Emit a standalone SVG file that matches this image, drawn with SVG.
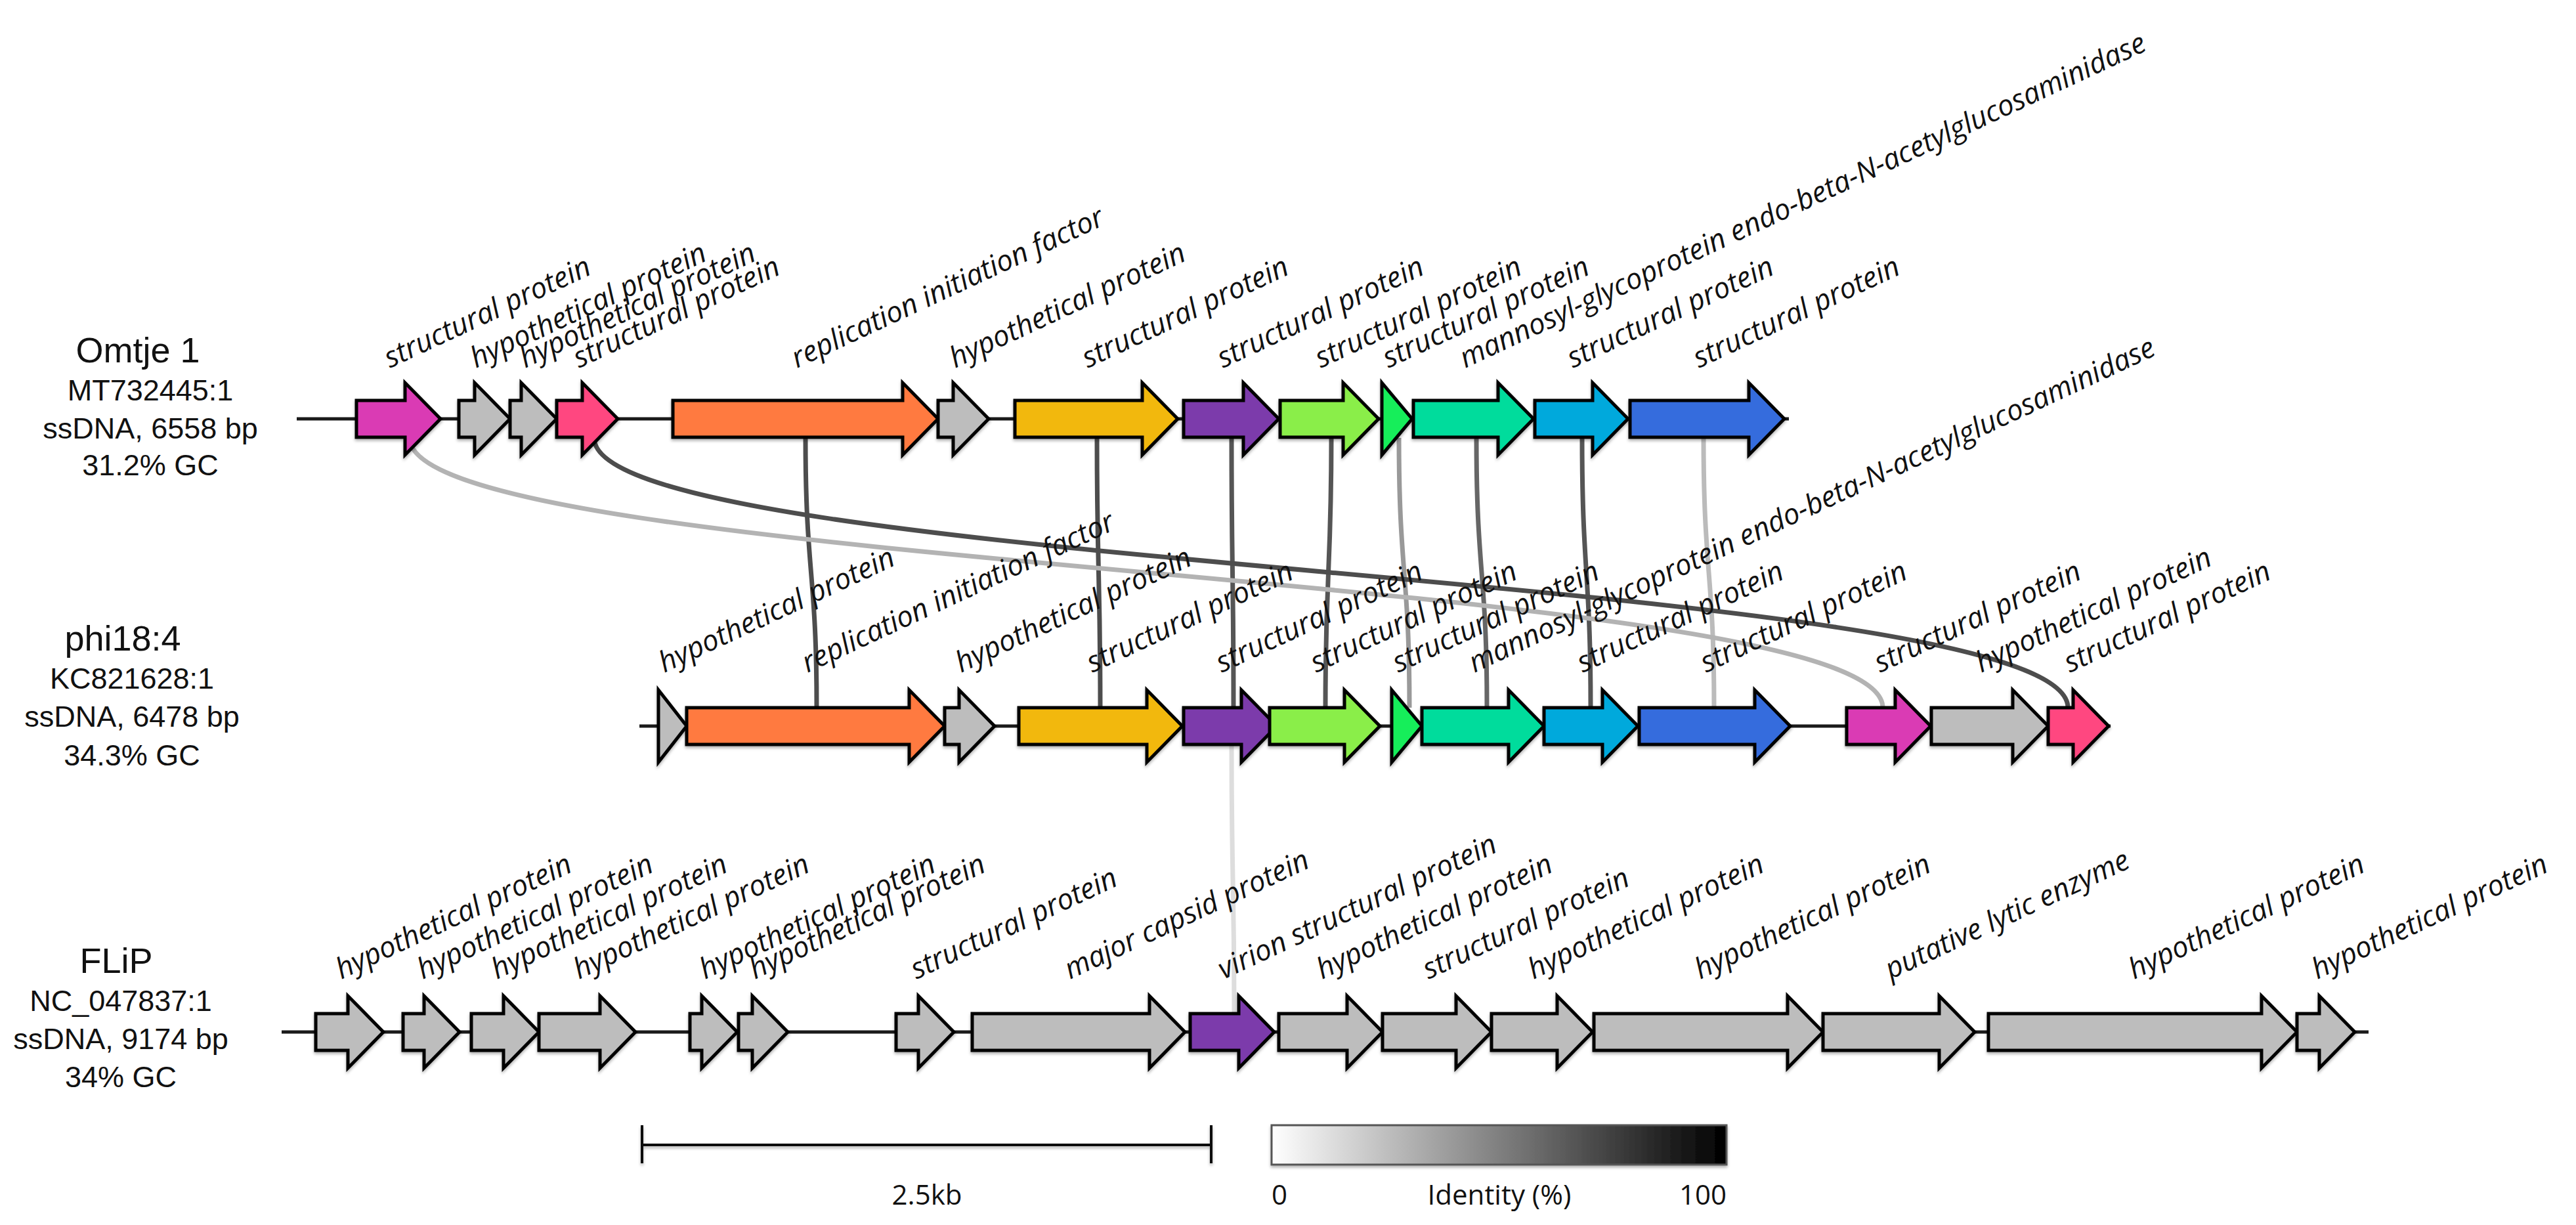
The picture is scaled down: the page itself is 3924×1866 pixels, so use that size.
<svg xmlns="http://www.w3.org/2000/svg" width="3924" height="1866" viewBox="0 0 3924 1866">
<defs>
<style>
.track{stroke:#1a1a1a;stroke-width:5;fill:none}
.gene{stroke:#000;stroke-width:5;stroke-linejoin:miter}
.lbl{font-family:"Open Sans","Noto Sans",sans-serif;font-style:italic;font-size:44px;fill:#111}
.name{font-family:"Liberation Sans",Arial,sans-serif;font-size:54px;fill:#111;text-anchor:middle}
.info{font-family:"Liberation Sans",Arial,sans-serif;font-size:45px;fill:#111;text-anchor:middle}
.leg{font-family:"Open Sans","Noto Sans",sans-serif;font-size:42px;fill:#111}
.link{fill:none;stroke-width:7}
.gray{fill:#bdbdbd}.mag{fill:#da3ab4}.pink{fill:#ff4780}.orange{fill:#ff7a3f}.yellow{fill:#f2b811}
.purple{fill:#7b3aab}.lgreen{fill:#8aee48}.green{fill:#12ee5a}.teal{fill:#04dc9c}.cyan{fill:#03a9dc}.blue{fill:#346cdd}
</style>
<linearGradient id="idgrad" x1="0" y1="0" x2="1" y2="0">
<stop offset="0" stop-color="#ffffff"/>
<stop offset="1" stop-color="#000000"/>
</linearGradient>
<filter id="sh" x="-5%" y="-20%" width="110%" height="140%">
<feDropShadow dx="0" dy="3" stdDeviation="2" flood-color="#000" flood-opacity="0.3"/>
</filter>
</defs>
<rect width="3924" height="1866" fill="#fff"/>

<g id="connectors">
<path class="link" stroke="#4d4d4d" d="M1227,667 C1227,872 1244,872 1244,1078"/>
<path class="link" stroke="#4d4d4d" d="M1671,667 C1671,872 1676,872 1676,1078"/>
<path class="link" stroke="#555" d="M1876,667 C1876,872 1879,872 1879,1078"/>
<path class="link" stroke="#555" d="M2028,667 C2028,872 2019,872 2019,1078"/>
<path class="link" stroke="#999" d="M2131,667 C2131,872 2147,872 2147,1078"/>
<path class="link" stroke="#666" d="M2249,667 C2249,872 2265,872 2265,1078"/>
<path class="link" stroke="#555" d="M2410,667 C2410,872 2423,872 2423,1078"/>
<path class="link" stroke="#bbb" d="M2595,667 C2595,872 2611,872 2611,1078"/>
<path class="link" stroke="#b3b3b3" d="M624,667 C624,872 2868,872 2868,1078"/>
<path class="link" stroke="#4d4d4d" d="M905,667 C905,872 3150,872 3150,1078"/>
<path class="link" stroke="#dddddd" stroke-width="5" d="M1876,1134 C1876,1339 1880,1339 1880,1544"/>
</g>

<g id="omtje">
<text class="name" x="210" y="552">Omtje 1</text>
<text class="info" x="229" y="610">MT732445:1</text>
<text class="info" x="229" y="668">ssDNA, 6558 bp</text>
<text class="info" x="229" y="724">31.2% GC</text>
<line class="track" x1="452" y1="638" x2="2725" y2="638"/>
<g filter="url(#sh)">
<polygon id="o1" class="gene mag" points="543,610 617,610 617,583 671,638 617,693 617,666 543,666"/>
<polygon id="o2" class="gene gray" points="699,610 723,610 723,583 777,638 723,693 723,666 699,666"/>
<polygon id="o3" class="gene gray" points="777,610 794,610 794,583 848,638 794,693 794,666 777,666"/>
<polygon id="o4" class="gene pink" points="848,610 887,610 887,583 941,638 887,693 887,666 848,666"/>
<polygon id="o5" class="gene orange" points="1025,610 1375,610 1375,583 1429,638 1375,693 1375,666 1025,666"/>
<polygon id="o6" class="gene gray" points="1429,610 1452,610 1452,583 1506,638 1452,693 1452,666 1429,666"/>
<polygon id="o7" class="gene yellow" points="1546,610 1740,610 1740,583 1794,638 1740,693 1740,666 1546,666"/>
<polygon id="o8" class="gene purple" points="1803,610 1894,610 1894,583 1948,638 1894,693 1894,666 1803,666"/>
<polygon id="o9" class="gene lgreen" points="1950,610 2046,610 2046,583 2100,638 2046,693 2046,666 1950,666"/>
<polygon id="o10" class="gene green" points="2105,583 2151,638 2105,693"/>
<polygon id="o11" class="gene teal" points="2153,610 2282,610 2282,583 2336,638 2282,693 2282,666 2153,666"/>
<polygon id="o12" class="gene cyan" points="2338,610 2426,610 2426,583 2480,638 2426,693 2426,666 2338,666"/>
<polygon id="o13" class="gene blue" points="2483,610 2664,610 2664,583 2718,638 2664,693 2664,666 2483,666"/>
</g>
<text class="lbl" transform="translate(594,561) rotate(-25)">structural protein</text>
<text class="lbl" transform="translate(725,561) rotate(-25)">hypothetical protein</text>
<text class="lbl" transform="translate(800,561) rotate(-25)">hypothetical protein</text>
<text class="lbl" transform="translate(882,561) rotate(-25)">structural protein</text>
<text class="lbl" transform="translate(1214,561) rotate(-25)">replication initiation factor</text>
<text class="lbl" transform="translate(1455,561) rotate(-25)">hypothetical protein</text>
<text class="lbl" transform="translate(1657,561) rotate(-25)">structural protein</text>
<text class="lbl" transform="translate(1863,561) rotate(-25)">structural protein</text>
<text class="lbl" transform="translate(2012,561) rotate(-25)">structural protein</text>
<text class="lbl" transform="translate(2115,561) rotate(-25)">structural protein</text>
<text class="lbl" transform="translate(2232,561) rotate(-25)">mannosyl-glycoprotein endo-beta-N-acetylglucosaminidase</text>
<text class="lbl" transform="translate(2396,561) rotate(-25)">structural protein</text>
<text class="lbl" transform="translate(2588,561) rotate(-25)">structural protein</text>
</g>

<g id="phi18">
<text class="name" x="187" y="991">phi18:4</text>
<text class="info" x="201" y="1049">KC821628:1</text>
<text class="info" x="201" y="1107">ssDNA, 6478 bp</text>
<text class="info" x="201" y="1166">34.3% GC</text>
<line class="track" x1="974" y1="1106" x2="3215" y2="1106"/>
<g filter="url(#sh)">
<polygon id="p1" class="gene gray" points="1003,1051 1046,1106 1003,1161"/>
<polygon id="p2" class="gene orange" points="1046,1078 1385,1078 1385,1051 1439,1106 1385,1161 1385,1134 1046,1134"/>
<polygon id="p3" class="gene gray" points="1439,1078 1461,1078 1461,1051 1515,1106 1461,1161 1461,1134 1439,1134"/>
<polygon id="p4" class="gene yellow" points="1552,1078 1747,1078 1747,1051 1801,1106 1747,1161 1747,1134 1552,1134"/>
<polygon id="p5" class="gene purple" points="1803,1078 1891,1078 1891,1051 1945,1106 1891,1161 1891,1134 1803,1134"/>
<polygon id="p6" class="gene lgreen" points="1934,1078 2048,1078 2048,1051 2102,1106 2048,1161 2048,1134 1934,1134"/>
<polygon id="p7" class="gene green" points="2120,1051 2166,1106 2120,1161"/>
<polygon id="p8" class="gene teal" points="2166,1078 2298,1078 2298,1051 2352,1106 2298,1161 2298,1134 2166,1134"/>
<polygon id="p9" class="gene cyan" points="2352,1078 2441,1078 2441,1051 2495,1106 2441,1161 2441,1134 2352,1134"/>
<polygon id="p10" class="gene blue" points="2497,1078 2673,1078 2673,1051 2727,1106 2673,1161 2673,1134 2497,1134"/>
<polygon id="p11" class="gene mag" points="2813,1078 2887,1078 2887,1051 2941,1106 2887,1161 2887,1134 2813,1134"/>
<polygon id="p12" class="gene gray" points="2942,1078 3066,1078 3066,1051 3120,1106 3066,1161 3066,1134 2942,1134"/>
<polygon id="p13" class="gene pink" points="3120,1078 3158,1078 3158,1051 3212,1106 3158,1161 3158,1134 3120,1134"/>
</g>
<text class="lbl" transform="translate(1012,1025) rotate(-25)">hypothetical protein</text>
<text class="lbl" transform="translate(1230,1025) rotate(-25)">replication initiation factor</text>
<text class="lbl" transform="translate(1464,1025) rotate(-25)">hypothetical protein</text>
<text class="lbl" transform="translate(1664,1025) rotate(-25)">structural protein</text>
<text class="lbl" transform="translate(1861,1025) rotate(-25)">structural protein</text>
<text class="lbl" transform="translate(2005,1025) rotate(-25)">structural protein</text>
<text class="lbl" transform="translate(2130,1025) rotate(-25)">structural protein</text>
<text class="lbl" transform="translate(2246,1025) rotate(-25)">mannosyl-glycoprotein endo-beta-N-acetylglucosaminidase</text>
<text class="lbl" transform="translate(2411,1025) rotate(-25)">structural protein</text>
<text class="lbl" transform="translate(2599,1025) rotate(-25)">structural protein</text>
<text class="lbl" transform="translate(2864,1025) rotate(-25)">structural protein</text>
<text class="lbl" transform="translate(3018,1025) rotate(-25)">hypothetical protein</text>
<text class="lbl" transform="translate(3153,1025) rotate(-25)">structural protein</text>
</g>

<g id="flip">
<text class="name" x="177" y="1482">FLiP</text>
<text class="info" x="184" y="1540">NC_047837:1</text>
<text class="info" x="184" y="1598">ssDNA, 9174 bp</text>
<text class="info" x="184" y="1656">34% GC</text>
<line class="track" x1="429" y1="1572" x2="3608" y2="1572"/>
<g filter="url(#sh)">
<polygon id="f1" class="gene gray" points="481,1544 530,1544 530,1517 584,1572 530,1627 530,1600 481,1600"/>
<polygon id="f2" class="gene gray" points="614,1544 646,1544 646,1517 700,1572 646,1627 646,1600 614,1600"/>
<polygon id="f3" class="gene gray" points="718,1544 767,1544 767,1517 821,1572 767,1627 767,1600 718,1600"/>
<polygon id="f4" class="gene gray" points="821,1544 914,1544 914,1517 968,1572 914,1627 914,1600 821,1600"/>
<polygon id="f5" class="gene gray" points="1051,1544 1069,1544 1069,1517 1123,1572 1069,1627 1069,1600 1051,1600"/>
<polygon id="f6" class="gene gray" points="1125,1544 1146,1544 1146,1517 1200,1572 1146,1627 1146,1600 1125,1600"/>
<polygon id="f7" class="gene gray" points="1365,1544 1399,1544 1399,1517 1453,1572 1399,1627 1399,1600 1365,1600"/>
<polygon id="f8" class="gene gray" points="1481,1544 1751,1544 1751,1517 1805,1572 1751,1627 1751,1600 1481,1600"/>
<polygon id="f9" class="gene purple" points="1813,1544 1887,1544 1887,1517 1941,1572 1887,1627 1887,1600 1813,1600"/>
<polygon id="f10" class="gene gray" points="1948,1544 2052,1544 2052,1517 2106,1572 2052,1627 2052,1600 1948,1600"/>
<polygon id="f11" class="gene gray" points="2106,1544 2218,1544 2218,1517 2272,1572 2218,1627 2218,1600 2106,1600"/>
<polygon id="f12" class="gene gray" points="2272,1544 2372,1544 2372,1517 2426,1572 2372,1627 2372,1600 2272,1600"/>
<polygon id="f13" class="gene gray" points="2428,1544 2723,1544 2723,1517 2777,1572 2723,1627 2723,1600 2428,1600"/>
<polygon id="f14" class="gene gray" points="2777,1544 2954,1544 2954,1517 3008,1572 2954,1627 2954,1600 2777,1600"/>
<polygon id="f15" class="gene gray" points="3029,1544 3445,1544 3445,1517 3499,1572 3445,1627 3445,1600 3029,1600"/>
<polygon id="f16" class="gene gray" points="3499,1544 3533,1544 3533,1517 3587,1572 3533,1627 3533,1600 3499,1600"/>
</g>
<text class="lbl" transform="translate(520,1492) rotate(-25)">hypothetical protein</text>
<text class="lbl" transform="translate(644,1492) rotate(-25)">hypothetical protein</text>
<text class="lbl" transform="translate(757,1492) rotate(-25)">hypothetical protein</text>
<text class="lbl" transform="translate(882,1492) rotate(-25)">hypothetical protein</text>
<text class="lbl" transform="translate(1074,1492) rotate(-25)">hypothetical protein</text>
<text class="lbl" transform="translate(1150,1492) rotate(-25)">hypothetical protein</text>
<text class="lbl" transform="translate(1396,1492) rotate(-25)">structural protein</text>
<text class="lbl" transform="translate(1630,1492) rotate(-25)">major capsid protein</text>
<text class="lbl" transform="translate(1864,1492) rotate(-25)">virion structural protein</text>
<text class="lbl" transform="translate(2014,1492) rotate(-25)">hypothetical protein</text>
<text class="lbl" transform="translate(2176,1492) rotate(-25)">structural protein</text>
<text class="lbl" transform="translate(2336,1492) rotate(-25)">hypothetical protein</text>
<text class="lbl" transform="translate(2590,1492) rotate(-25)">hypothetical protein</text>
<text class="lbl" transform="translate(2880,1492) rotate(-25)">putative lytic enzyme</text>
<text class="lbl" transform="translate(3251,1492) rotate(-25)">hypothetical protein</text>
<text class="lbl" transform="translate(3530,1492) rotate(-25)">hypothetical protein</text>
</g>

<g id="scalebar">
<g stroke="#111" stroke-width="4" filter="url(#sh)">
<line x1="978" y1="1744" x2="1845" y2="1744"/>
<line x1="978" y1="1714" x2="978" y2="1772"/>
<line x1="1845" y1="1714" x2="1845" y2="1772"/>
</g>
<text class="leg" x="1412" y="1835" text-anchor="middle">2.5kb</text>
</g>

<g id="legend">
<rect x="1937" y="1714" width="693" height="60" fill="url(#idgrad)" stroke="#555" stroke-width="3" filter="url(#sh)"/>
<text class="leg" x="1937" y="1835">0</text>
<text class="leg" x="2284" y="1835" text-anchor="middle">Identity (%)</text>
<text class="leg" x="2630" y="1835" text-anchor="end">100</text>
</g>
</svg>
